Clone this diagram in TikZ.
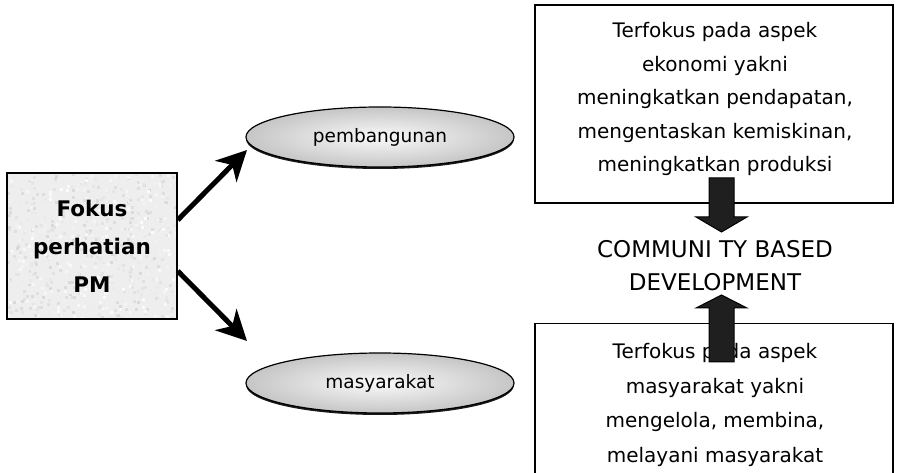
\documentclass[tikz,border=0pt]{standalone}
\usepackage{fontspec}
\setmainfont{DejaVu Sans}
\usetikzlibrary{shapes.geometric,arrows.meta,shadows}

\begin{document}
\begin{tikzpicture}[x=1pt,y=-1pt,
  fokus/.style={draw, line width=1.5pt, fill=gray!13, minimum width=170pt, minimum height=146pt, inner sep=0pt, align=center, font=\fontsize{21.5}{38}\selectfont\bfseries},
  sasaran/.style={ellipse, draw, line width=1.2pt, shading=radial, inner color=gray!4, outer color=gray!45, minimum width=268pt, minimum height=60pt, inner sep=0pt, font=\fontsize{18.5}{22}\selectfont, drop shadow={shadow xshift=0pt, shadow yshift=-2pt, fill=black, opacity=0.9}},
  aspek/.style={draw, line width=1.5pt, minimum width=358pt, inner sep=0pt},
  isi/.style={align=center, font=\fontsize{20}{33.5}\selectfont},
  panah/.style={line width=5pt, -{Stealth[length=30pt,width=30pt,inset=9pt]}},
  blok/.style={draw, line width=1pt, fill=black!88}
]
\useasboundingbox (0,0) rectangle (898,473);
\pgfmathsetseed{7}

% fokus perhatian, kotak bertekstur
\node[fokus, path picture={
    \foreach \i in {1,...,700}{
      \pgfmathsetmacro{\px}{170*rnd}
      \pgfmathsetmacro{\py}{146*rnd}
      \pgfmathtruncatemacro{\pg}{3+28*rnd}
      \fill[gray!\pg] (path picture bounding box.north west) ++(\px,\py) rectangle ++(3,3);
    }}] (pm) at (92,246) {Fokus\\perhatian\\PM};

\node[sasaran] (bangun) at (380,137) {pembangunan};
\node[sasaran] (masy) at (380,383) {masyarakat};

\coordinate (ujung1) at (247,150);
\coordinate (ujung2) at (247,341);
\draw[panah] ([yshift=26pt]pm.east) -- (ujung1);
\draw[panah] ([yshift=-25pt]pm.east) -- (ujung2);

% kotak kanan
\node[aspek, minimum height=198pt] (ekonomi) at (714,104) {};
\node[isi] (ekonomitxt) at (715,99) {Terfokus pada aspek\\ekonomi yakni\\meningkatkan pendapatan,\\mengentaskan kemiskinan,\\meningkatkan produksi};

\node[aspek, minimum height=180pt, anchor=north] (sosial) at (714,323) {};
\node[isi, font=\fontsize{20}{34.7}\selectfont] (sosialtxt) at (715,405) {Terfokus pada aspek\\masyarakat yakni\\mengelola, membina,\\melayani masyarakat};

\node[align=center, font=\fontsize{23}{33}\selectfont] (cbd) at (715,266) {COMMUNI TY BASED\\DEVELOPMENT};

% panah blok
\draw[blok] (709,178) -- (734,178) -- (734,217) -- (747,217) -- (721.5,232) -- (696,217) -- (709,217) -- cycle;
\draw[blok] (709,362) -- (734,362) -- (734,308) -- (747,308) -- (721.5,295) -- (696,308) -- (709,308) -- cycle;

\end{tikzpicture}
\end{document}
